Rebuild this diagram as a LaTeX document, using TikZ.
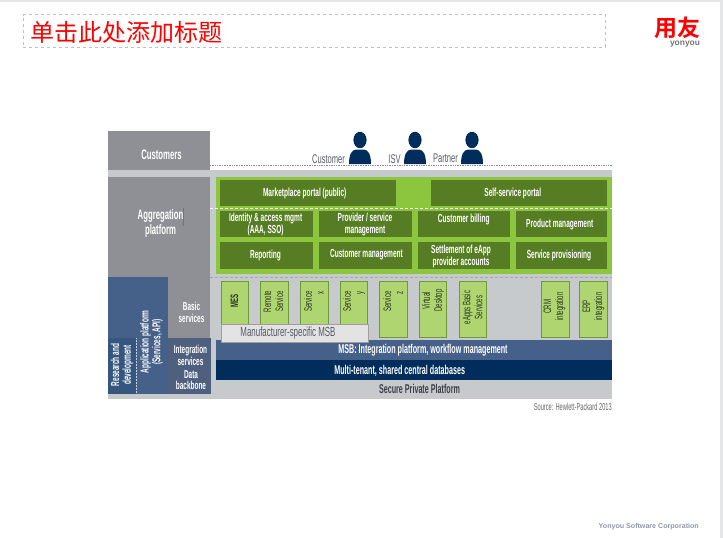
\documentclass[tikz,border=0pt]{standalone}
\usepackage{fontspec}
\setmainfont{Liberation Sans}
\newfontfamily\cond[FakeStretch=0.56]{Liberation Sans}
\newfontfamily\condt[FakeStretch=0.6]{Liberation Sans}
\newfontfamily\cjk{Noto Sans CJK SC}
\newfontfamily\cjkb{Noto Sans CJK SC Bold}
\definecolor{graybox}{HTML}{8F9095}
\definecolor{lightband}{HTML}{C7CACD}
\definecolor{bluebox}{HTML}{456089}
\definecolor{bluedark}{HTML}{365680}
\definecolor{bluegray}{HTML}{4F5F7E}
\definecolor{navy}{HTML}{002D5C}
\definecolor{greenouter}{HTML}{8CC63F}
\definecolor{greendark}{HTML}{567D24}
\definecolor{greenlight}{HTML}{AED56F}
\definecolor{greenedge}{HTML}{6F9A3A}
\definecolor{frame}{HTML}{E4E6E8}
\definecolor{txtdark}{HTML}{26351F}
\definecolor{txtgray}{HTML}{555A66}
\definecolor{foottxt}{HTML}{8F98A8}
\tikzset{
 rect/.style={inner sep=0,outer sep=0,anchor=north west},
 wlab/.style={text=white,font=\cond\bfseries\fontsize{11.7}{11.5}\selectfont,align=center,inner sep=0},
 blab/.style={text=white,font=\cond\bfseries\fontsize{13.8}{15}\selectfont,align=center,inner sep=0},
 slab/.style={text=white,font=\cond\bfseries\fontsize{11.5}{11.8}\selectfont,align=center,inner sep=0},
 dbox/.style={fill=greendark},
 vlab/.style={rotate=90,text=txtdark,font=\cond\fontsize{10.8}{12}\selectfont,align=right,inner sep=0},
 plab/.style={text=txtgray,font=\condt\fontsize{12.6}{12}\selectfont,inner sep=0},
 barlab/.style={text=white,font=\cond\bfseries\fontsize{12.8}{12}\selectfont,inner sep=0},
 person/.style={fill=navy,draw=none},
}
\newcommand{\personicon}[1]{%
 \fill[person] (#1,140) ellipse (6.6 and 8.2);
 \fill[person] (#1-11,164) .. controls (#1-11,154) and (#1-8,149.5) .. (#1-3.5,149.5)
   -- (#1+3.5,149.5) .. controls (#1+8,149.5) and (#1+11,154) .. (#1+11,164) -- cycle;
}
\begin{document}
\begin{tikzpicture}[x=1pt,y=-1pt]
\useasboundingbox (0,0) rectangle (723,538);
% slide frame
\fill[frame] (0,0) rectangle (723,2);
\fill[frame] (720,0) rectangle (723,538);
% title
\node[rect,draw=black!25,dashed,line width=0.6pt,minimum width=582pt,minimum height=32.5pt] (titlebox) at (23,14.5) {};
\node[anchor=west,inner sep=0,text=red,font=\cjk\fontsize{24}{24}\selectfont] (title) at (30.5,32) {单击此处添加标题};
% logo
\node[anchor=center,inner sep=0,text=red,font=\cjkb\fontsize{23}{23}\selectfont] (logo) at (677,27.5) {用友};
\node[anchor=center,inner sep=0,text=black!55,font=\bfseries\fontsize{8.4}{9}\selectfont] (logotxt) at (685,44) {yonyou};
% backgrounds
\fill[lightband] (107.5,169.5) rectangle (612,399);
\fill[graybox] (107.5,131) rectangle (210,169.5);
\fill[graybox] (107.5,177) rectangle (210,277);
\fill[graybox] (167.5,277) rectangle (210,338);
\fill[bluebox] (107.5,277) rectangle (167.5,338);
\fill[bluedark] (107.5,338) rectangle (136,394);
\fill[bluebox] (136,338) rectangle (167.5,394);
\fill[bluegray] (167.5,338) rectangle (210.5,394);
\draw[white!70!bluebox,densely dotted,line width=0.5pt] (136,338) -- (136,394);
\draw[black!55,line width=0.5pt] (183.3,208) -- (183.3,226);
% dotted lines
\draw[black!45,densely dotted,line width=0.7pt] (210,165.7) -- (612,165.7);
\draw[black!35,densely dashed,line width=0.5pt] (210,277.3) -- (612,277.3);
% green area
\fill[greenouter] (216,177) rectangle (611.5,274);
% dark green boxes
\node[rect,dbox,minimum width=176pt,minimum height=26pt] (m1) at (220,179.7) {};
\node[rect,dbox,minimum width=176.3pt,minimum height=26pt] (m2) at (431,179.7) {};
\foreach \xa/\xb in {220/312.5,319/411.5,418/510,516/607.3}{
 \fill[greendark] (\xa,210.7) rectangle (\xb,236.7);
 \fill[greendark] (\xa,242.3) rectangle (\xb,269);
}
\draw[white,densely dashed,line width=0.8pt] (210,208.3) -- (612,208.3);
% left labels
\node[blab] (cust) at (161.5,155) {Customers};
\node[blab] (aggr) at (160.5,223.5) {Aggregation\\platform};
\node[slab] (basic) at (191.5,312.5) {Basic\\services};
\node[slab] (integ) at (190.5,355.5) {Integration\\services};
\node[slab] (data) at (191,380) {Data\\backbone};
\node[slab,rotate=90] (app) at (151.5,342) {Application platform\\(Services, API)};
\node[slab,rotate=90] (rnd) at (122,365) {Research and\\development};
% green labels
\node[wlab] (mp) at (304.7,193) {Marketplace portal (public)};
\node[wlab] (ss) at (512.8,193) {Self-service portal};
\node[wlab] (l1) at (265.6,224.5) {Identity \& access mgmt\\(AAA, SSO)};
\node[wlab] (l2) at (365,224.5) {Provider / service\\management};
\node[wlab] (l3) at (463.8,219) {Customer billing};
\node[wlab] (l4) at (559.7,224) {Product management};
\node[wlab] (l5) at (265.5,255) {Reporting};
\node[wlab] (l6) at (366.5,255) {Customer management};
\node[wlab] (l7) at (461,256.5) {Settlement of eApp\\provider accounts};
\node[wlab] (l8) at (559,255) {Service provisioning};
% people
\personicon{360}
\personicon{415}
\personicon{472}
\node[plab] (p1) at (328.5,159) {Customer};
\node[plab] (p2) at (394.5,159) {ISV};
\node[plab] (p3) at (445.5,158.5) {Partner};
% service boxes
\foreach \xa/\xb in {221/248.7,260.5/288,300/328,340/367.5,379.3/407.3,419/446.7,459/486.3,541/569,579.3/607}{
 \fill[greenlight] (\xa,281) rectangle (\xb,337.7);
 \draw[greenedge,line width=0.9pt] (\xa,281) rectangle (\xb,337.7);
}
\node[vlab,font=\cond\bfseries\fontsize{10.8}{12}\selectfont] (s1) at (234.5,301) {MES};
\node[vlab,align=center] (s2) at (273.5,301.5) {Remote\\Service};
\node[vlab] (s3) at (314,301.5) {Service\\x};
\node[vlab] (s4) at (354,301.5) {Service\\y};
\node[vlab] (s5) at (393.3,301.5) {Service\\z};
\node[vlab,align=center] (s6) at (433,300.5) {Virtual\\Desktop};
\node[vlab,align=center] (s7) at (472.5,307.5) {eApps Basic\\Services};
\node[vlab,align=center] (s8) at (554.5,306.5) {CRM\\integration};
\node[vlab,align=center] (s9) at (593.5,306.5) {ERP\\integration};
% bottom bars
\fill[bluebox] (216,340) rectangle (612,360);
\fill[navy] (216,360) rectangle (612,379.5);
\node[rect,fill=black!11,draw=black!38,line width=0.7pt,minimum width=147pt,minimum height=18pt] (msbm) at (221,324) {};
\node[text=txtgray,inner sep=0,font=\condt\fontsize{13.2}{12}\selectfont] (msbt) at (288,333) {Manufacturer-specific MSB};
\node[barlab] (msb) at (423,350.5) {MSB: Integration platform, workflow management};
\node[barlab] (mt) at (399.7,371) {Multi-tenant, shared central databases};
\node[barlab,text=txtgray!70!black] (sp) at (419.5,388.5) {Secure Private Platform};
% source
\node[anchor=east,inner sep=0,text=black!60,font=\cond\fontsize{10.2}{10}\selectfont] (src) at (612,406.5) {Source: Hewlett-Packard 2013};
% footer
\node[anchor=west,inner sep=0,text=foottxt,font=\bfseries\fontsize{7.1}{8}\selectfont] (foot) at (598.5,526.5) {Yonyou Software Corporation};
\end{tikzpicture}
\end{document}
